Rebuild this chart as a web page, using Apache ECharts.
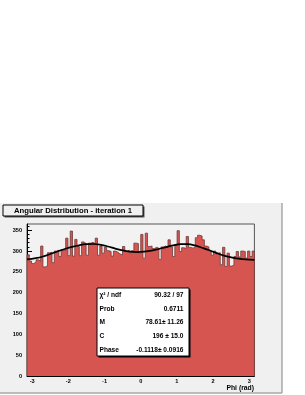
<!DOCTYPE html>
<html>
<head>
<meta charset="utf-8">
<script src="https://cdn.jsdelivr.net/npm/echarts@6/dist/echarts.min.js"></script>
<style>
html,body{margin:0;padding:0;background:#fff;}
#c{width:305px;height:395px;}
</style>
</head>
<body>
<div id="c"></div>
<script>
// ---- data ----
const titleText = 'Angular Distribution - iteration 1';
const xTitle = 'Phi (rad)';
const phiMin = -Math.PI;
const phiMax = Math.PI;
const counts = [
  291, 276, 270, 274, 279, 276, 312, 262, 264, 296,
  297, 272, 300, 302, 287, 303, 301, 331, 289, 348,
  288, 328, 311, 289, 322, 318, 290, 319, 321, 318,
  331, 290, 312, 295, 309, 301, 299, 288, 300, 297,
  293, 291, 311, 299, 302, 296, 301, 319, 318, 295,
  340, 283, 343, 311, 312, 306, 309, 307, 280, 310,
  312, 309, 327, 310, 287, 314, 349, 299, 308, 306,
  335, 309, 307, 310, 332, 338, 336, 327, 312, 310,
  301, 290, 300, 295, 296, 267, 309, 263, 295, 264,
  266, 287, 299, 286, 300, 299, 283, 300, 287, 300
];
const fitPhi = [-3.1416, -2.9, -2.7, -2.5, -2.3, -2.1, -1.9, -1.7, -1.5, -1.3, -1.1, -0.9, -0.7, -0.5, -0.3, -0.1,
                0.1, 0.3, 0.5, 0.7, 0.9, 1.1, 1.3, 1.5, 1.7, 1.9, 2.1, 2.3, 2.5, 2.7, 2.9, 3.1416];
const fitVal = [280, 283, 287, 293, 299, 305, 310, 314, 316.5, 317, 315, 311, 306, 301.5, 298.5, 297.5,
                298.5, 301, 305, 309.5, 313.5, 316.5, 316.5, 313.5, 308, 302, 295, 289, 285, 282, 280, 279];
const xMajorTicks = [-3, -2, -1, 0, 1, 2, 3];
const yMajorTicks = [0, 50, 100, 150, 200, 250, 300, 350];
const yMax = 365;
const statsRows = [
  ['\u03C7\u00B2 / ndf', '90.32 / 97'],
  ['Prob', '0.6711'],
  ['M', '78.61\u00B1 11.26'],
  ['C', '196 \u00B1 15.0'],
  ['Phase', '-0.1118\u00B1 0.0916']
];

// ---- build ----
const nb = counts.length;
const bw = (phiMax - phiMin) / nb;
// step outline points: bin low edges with their counts, framed by zero at both ends
const histData = [[phiMin, 0]].concat(counts.map((v, i) => [phiMin + i * bw, v])).concat([[phiMax, 0]]);
const fitData = fitPhi.map((p, i) => [p, fitVal[i]]);
const xMinor = [];
for (let k = -15; k <= 15; k++) { if (k % 5 !== 0) xMinor.push(k / 5); }
const yMinor = [];
for (let v = 10; v < yMax; v += 10) { if (v % 50 !== 0) yMinor.push(v); }

const FONT = 'Liberation Sans, Arial, Helvetica, sans-serif';
const chart = echarts.init(document.getElementById('c'), null, {renderer: 'canvas'});

const graphics = [
  {type: 'rect', z: -10, silent: true, shape: {x: 0, y: 203, width: 282, height: 190}, style: {fill: '#f0f0f0'}},
  {type: 'line', z: -9, shape: {x1: 282, y1: 203, x2: 282, y2: 393}, style: {stroke: '#a8a8a8', lineWidth: 1.5}},
  {type: 'line', z: -9, shape: {x1: 0, y1: 393, x2: 282, y2: 393}, style: {stroke: '#a8a8a8', lineWidth: 1.5}},
  // title box
  {type: 'rect', z: 10, shape: {x: 4.5, y: 206.5, width: 140, height: 11}, style: {fill: '#555'}},
  {type: 'rect', z: 11, shape: {x: 3, y: 205, width: 140, height: 11}, style: {fill: '#f0f0f0', stroke: '#000', lineWidth: 1}},
  {type: 'text', z: 12, x: 73, y: 210.8, style: {text: titleText, font: 'bold 7.7px ' + FONT, fill: '#000', align: 'center', verticalAlign: 'middle'}},
  // stats box
  {type: 'rect', z: 10, shape: {x: 98.5, y: 289.5, width: 92, height: 68}, style: {fill: '#000'}},
  {type: 'rect', z: 11, shape: {x: 97, y: 288, width: 92, height: 68}, style: {fill: '#fff', stroke: '#000', lineWidth: 1}},
  // x title
  {type: 'text', z: 12, x: 254, y: 388, style: {text: xTitle, font: 'bold 6.8px ' + FONT, fill: '#000', align: 'right', verticalAlign: 'middle'}}
];
statsRows.forEach((r, i) => {
  const y = 295 + i * 13.8;
  graphics.push({type: 'text', z: 12, x: 99.5, y: y, style: {text: r[0], font: 'bold 6.6px ' + FONT, fill: '#000', align: 'left', verticalAlign: 'middle'}});
  graphics.push({type: 'text', z: 12, x: 183.5, y: y, style: {text: r[1], font: 'bold 6.6px ' + FONT, fill: '#000', align: 'right', verticalAlign: 'middle'}});
});

const option = {
  animation: false,
  backgroundColor: '#ffffff',
  grid: {left: 27, right: 50.6, top: 224, bottom: 19, show: true, backgroundColor: '#f2f2f2', borderColor: '#555', borderWidth: 1, containLabel: false},
  xAxis: [
    {type: 'value', min: phiMin, max: phiMax, position: 'bottom',
     axisLine: {show: true, onZero: false, lineStyle: {color: '#000', width: 1}},
     axisTick: {show: true, inside: true, length: 5, customValues: xMajorTicks, lineStyle: {color: '#000', width: 1}},
     axisLabel: {show: true, customValues: xMajorTicks, margin: 2.5, color: '#000', fontSize: 5.6, fontWeight: 'bold', fontFamily: FONT, formatter: v => String(v)},
     splitLine: {show: false}},
    {type: 'value', min: phiMin, max: phiMax, position: 'bottom',
     axisLine: {show: false, onZero: false},
     axisTick: {show: true, inside: true, length: 2.5, customValues: xMinor, lineStyle: {color: '#000', width: 1}},
     axisLabel: {show: false}, splitLine: {show: false}}
  ],
  yAxis: [
    {type: 'value', min: 0, max: yMax, position: 'left',
     axisLine: {show: true, onZero: false, lineStyle: {color: '#000', width: 1}},
     axisTick: {show: true, inside: true, length: 5, customValues: yMajorTicks, lineStyle: {color: '#000', width: 1}},
     axisLabel: {show: true, customValues: yMajorTicks, margin: 5, color: '#000', fontSize: 5.6, fontWeight: 'bold', fontFamily: FONT},
     splitLine: {show: false}},
    {type: 'value', min: 0, max: yMax, position: 'left',
     axisLine: {show: false, onZero: false},
     axisTick: {show: true, inside: true, length: 2.5, customValues: yMinor, lineStyle: {color: '#000', width: 1}},
     axisLabel: {show: false}, splitLine: {show: false}}
  ],
  series: [
    {
      type: 'line', xAxisIndex: 0, yAxisIndex: 0, data: histData, step: 'end', showSymbol: false, z: 2,
      lineStyle: {color: '#6e3a38', width: 0.8},
      areaStyle: {color: '#d65550', opacity: 1, origin: 'start'}
    },
    {
      type: 'line', xAxisIndex: 0, yAxisIndex: 0, data: fitData, smooth: 0.4, showSymbol: false, z: 5,
      lineStyle: {color: '#000', width: 1.7}
    }
  ],
  graphic: graphics
};
chart.setOption(option);
</script>
</body>
</html>
